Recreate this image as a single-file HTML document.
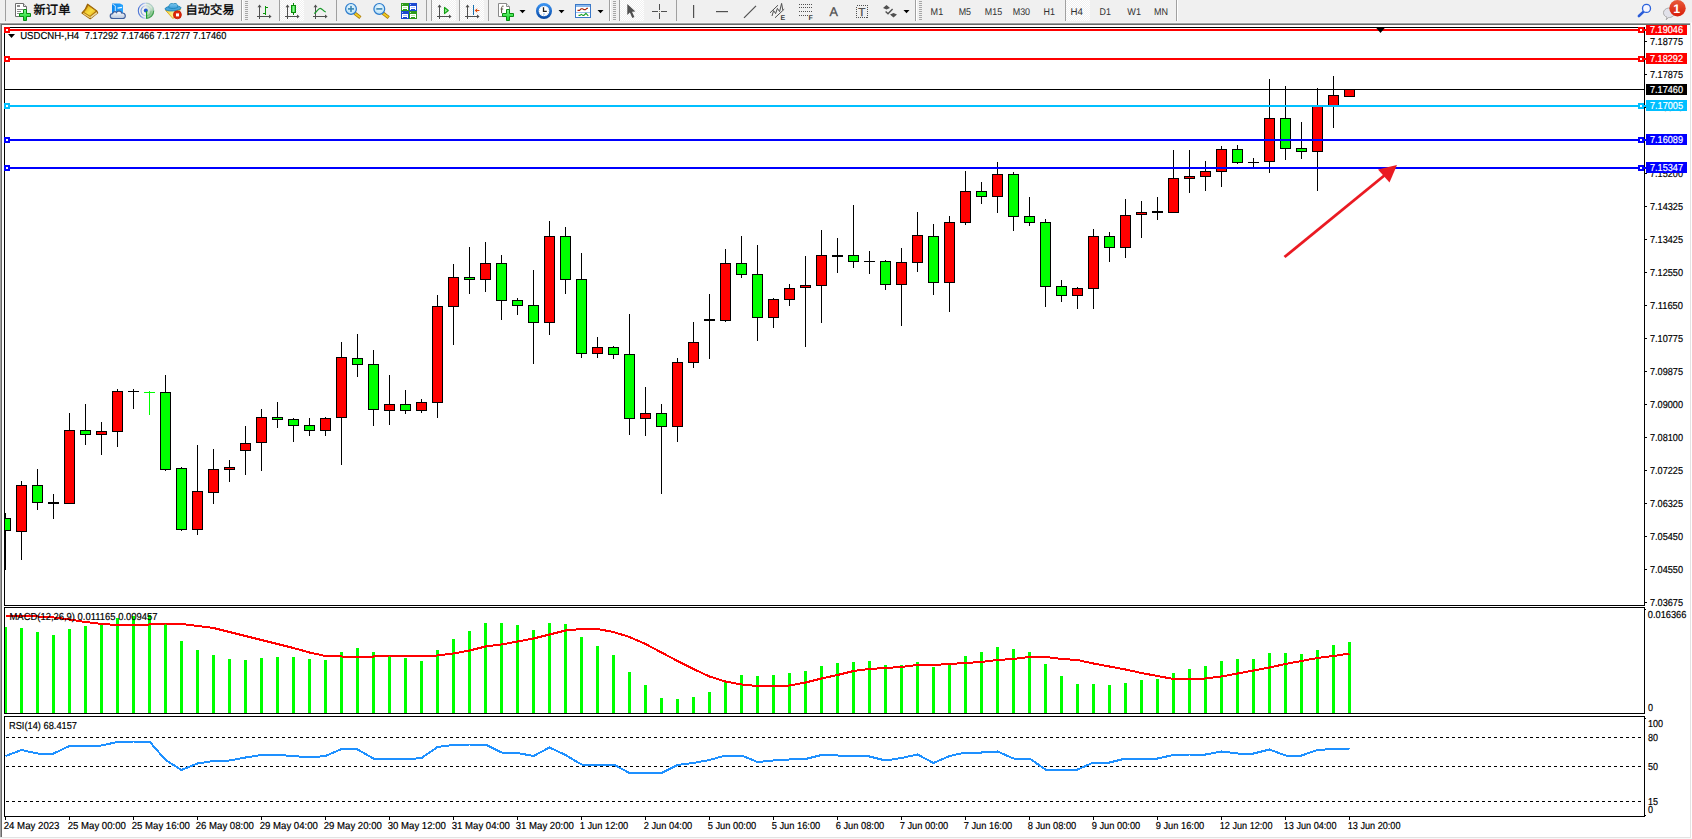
<!DOCTYPE html>
<html><head><meta charset="utf-8"><title>USDCNH-,H4</title>
<style>
html,body{margin:0;padding:0;background:#fff;overflow:hidden}
svg{display:block}
text{font-family:"Liberation Sans","Noto Sans CJK SC",sans-serif;white-space:pre;text-rendering:geometricPrecision}
</style></head><body>
<svg width="1692" height="839" viewBox="0 0 1692 839">
<rect x="0" y="0" width="1692" height="839" fill="#fff"/>
<rect x="0" y="0" width="1692" height="22" fill="#f0f0f0"/>
<rect x="0" y="22" width="1692" height="1" fill="#f6f6f6"/>
<rect x="0" y="23" width="1690" height="1" fill="#a0a0a0"/>
<rect x="1" y="24" width="1689" height="1" fill="#696969"/>
<rect x="0" y="23" width="1" height="814" fill="#a0a0a0"/>
<rect x="1" y="24" width="1" height="813" fill="#696969"/>
<rect x="1690" y="23" width="1" height="815" fill="#e3e3e3"/>
<rect x="0" y="837" width="1691" height="1" fill="#e3e3e3"/>
<rect x="0" y="838" width="1692" height="1" fill="#f8f8f8"/>
<defs>
<pattern id="chk" width="2" height="2" patternUnits="userSpaceOnUse"><rect width="2" height="2" fill="#f0f0f0"/><rect width="1" height="1" fill="#fff"/><rect x="1" y="1" width="1" height="1" fill="#fff"/></pattern>
<linearGradient id="gplus" x1="0" y1="0" x2="0" y2="1"><stop offset="0" stop-color="#7dfc8a"/><stop offset="1" stop-color="#0fd020"/></linearGradient>
<linearGradient id="ggold" x1="0" y1="0" x2="1" y2="1"><stop offset="0" stop-color="#dfa008"/><stop offset="0.55" stop-color="#f9dc40"/><stop offset="1" stop-color="#e0a818"/></linearGradient>
<linearGradient id="gbadge" x1="0" y1="0" x2="0" y2="1"><stop offset="0" stop-color="#e85a3a"/><stop offset="1" stop-color="#d81c08"/></linearGradient>
<linearGradient id="gbox" x1="0" y1="0" x2="1" y2="0"><stop offset="0" stop-color="#0a86ee"/><stop offset="1" stop-color="#2aa6ff"/></linearGradient>
<linearGradient id="gcloud" x1="0" y1="0" x2="0" y2="1"><stop offset="0" stop-color="#ffffff"/><stop offset="1" stop-color="#b9c6dc"/></linearGradient>
<linearGradient id="gcandle" x1="0" y1="0" x2="1" y2="0"><stop offset="0" stop-color="#18c828"/><stop offset="0.5" stop-color="#8cf890"/><stop offset="1" stop-color="#18c828"/></linearGradient>
<radialGradient id="glens" cx="0.5" cy="0.4" r="0.6"><stop offset="0" stop-color="#eefaff"/><stop offset="1" stop-color="#b4def6"/></radialGradient>
<linearGradient id="ghat" x1="0" y1="0" x2="0" y2="1"><stop offset="0" stop-color="#7cc8f0"/><stop offset="1" stop-color="#3a9cd8"/></linearGradient>
<linearGradient id="gface" x1="0" y1="0" x2="1" y2="0"><stop offset="0" stop-color="#f6d030"/><stop offset="0.6" stop-color="#fff6a0"/><stop offset="1" stop-color="#f0c020"/></linearGradient>
<linearGradient id="gclock" x1="0" y1="0" x2="0" y2="1"><stop offset="0" stop-color="#3a92f0"/><stop offset="1" stop-color="#0a4ca8"/></linearGradient>
<linearGradient id="gsigb" x1="0" y1="0" x2="1" y2="0"><stop offset="0" stop-color="#2c5cd0"/><stop offset="1" stop-color="#c8d8f4"/></linearGradient>
<linearGradient id="gsigr" x1="0" y1="0" x2="0.6" y2="1"><stop offset="0" stop-color="#e6efe6"/><stop offset="0.5" stop-color="#cfe6cf"/><stop offset="1" stop-color="#52b05c"/></linearGradient>
</defs>
<g id="toolbar">
<rect x="279" y="0" width="1" height="21" fill="#a0a0a0" shape-rendering="crispEdges"/>
<rect x="280" y="0" width="24" height="21" fill="url(#chk)" shape-rendering="crispEdges"/>
<rect x="431" y="0" width="1" height="21" fill="#a0a0a0" shape-rendering="crispEdges"/>
<rect x="432" y="0" width="24" height="21" fill="url(#chk)" shape-rendering="crispEdges"/>
<rect x="459" y="0" width="1" height="21" fill="#a0a0a0" shape-rendering="crispEdges"/>
<rect x="460" y="0" width="24" height="21" fill="url(#chk)" shape-rendering="crispEdges"/>
<rect x="619" y="0" width="1" height="21" fill="#a0a0a0" shape-rendering="crispEdges"/>
<rect x="620" y="0" width="24" height="21" fill="url(#chk)" shape-rendering="crispEdges"/>
<rect x="1065" y="0" width="1" height="21" fill="#a0a0a0" shape-rendering="crispEdges"/>
<rect x="1066" y="0" width="24" height="21" fill="url(#chk)" shape-rendering="crispEdges"/>
<rect x="5" y="0" width="1" height="21" fill="#a0a0a0" shape-rendering="crispEdges"/>
<path d="M15.5 3.5 h8 l3 3 v10 h-11 Z" fill="#fff" stroke="#6e6e6e" stroke-width="1" stroke-linejoin="round"/>
<path d="M23.5 3.5 v3 h3" fill="#e8e8e8" stroke="#6e6e6e" stroke-width="1" stroke-linejoin="round"/>
<g fill="#8a8a8a" shape-rendering="crispEdges"><rect x="17" y="5" width="3" height="2"/><rect x="17" y="9" width="6" height="1"/><rect x="17" y="11" width="4" height="1"/><rect x="17" y="13" width="2" height="1"/></g>
<path d="M23.5 9.5 h3 v4 h4 v3 h-4 v4 h-3 v-4 h-4 v-3 h4 Z" fill="url(#gplus)" stroke="#0a8c12" stroke-width="1"/>
<text x="33.6" y="14.0" font-size="12.2" fill="#000" stroke="#000" stroke-width="0.35" textLength="36.8" lengthAdjust="spacingAndGlyphs">新订单</text>
<path d="M87.6 4.2 L96.8 10.9 L97.7 12.9 L90.2 18.7 L82 13 C84.4 10.8 86.5 7.6 87.6 4.2 Z" fill="#b87a0c" stroke="#9a6206" stroke-width="1.2" stroke-linejoin="round"/>
<path d="M90.4 17.7 L97 12.6" fill="none" stroke="#e8d9a0" stroke-width="1.5"/>
<path d="M83.2 13.3 L90.2 17.6" fill="none" stroke="#f0d070" stroke-width="1.3"/>
<path d="M88 5.2 L96.2 11 L90 16.2 L83.6 12.2 C85.6 10.3 87.1 7.7 88 5.2 Z" fill="url(#ggold)" stroke="#a87008" stroke-width="0.7" stroke-linejoin="round"/>
<path d="M112 3.5 h8 l3 1.5 v8 h-11 Z" fill="url(#gbox)"/>
<path d="M112.3 4 l3 1.8 v7" fill="none" stroke="#d8f0ff" stroke-width="0.9"/>
<path d="M117.5 8.2 l4.5 -0.8" stroke="#e8f8ff" stroke-width="1.3"/>
<path d="M113 18.5 c-3.6 0 -3.6 -4.6 -0.4 -4.8 c0.2 -2 2.8 -2.6 3.8 -1.2 c1.2 -2.2 5 -1.8 5.4 0.6 c3.8 -1 5.2 5.4 0.6 5.4 Z" fill="url(#gcloud)" stroke="#3f5f9c" stroke-width="1.2"/>
<path d="M146.3 3 A7.8 7.8 0 0 1 146.3 18.6 Z" fill="url(#gsigr)" opacity="0.9"/>
<g fill="none" stroke-width="1.1"><path d="M146 18.5 A7.7 7.7 0 0 1 146 3.1" stroke="url(#gsigb)" opacity="0.85"/><path d="M146 15.8 A5 5 0 0 1 146 5.8" stroke="url(#gsigb)" opacity="0.6"/><path d="M146 3.1 A7.7 7.7 0 0 1 153.7 10.8" stroke="#9cc0c0" opacity="0.7"/><path d="M146 5.8 A5 5 0 0 1 151 10.8" stroke="#b8d0d0" opacity="0.7"/><path d="M153.7 10.8 A7.7 7.7 0 0 1 146.4 18.5" stroke="#3c9c4c" opacity="0.9"/><path d="M151 10.8 A5 5 0 0 1 146.6 15.8" stroke="#7cc088" opacity="0.9"/></g>
<circle cx="145.8" cy="10.6" r="2" fill="#2458cc"/>
<rect x="146" y="11" width="1.2" height="7.6" fill="#18a028"/>
<path d="M165.6 10.4 L180.6 9.4 L173 18.6 Z" fill="url(#gface)" stroke="#d8a010" stroke-width="0.8" stroke-linejoin="round"/>
<ellipse cx="173" cy="8.4" rx="8" ry="2.5" transform="rotate(-4 173 8.4)" fill="#48a4dc" stroke="#1c84b8" stroke-width="0.9"/>
<path d="M168.8 7.8 C168.6 5 170 3.3 172.2 3.5 C173.2 3.9 174 3.9 175 3.4 C177 3.4 178 5.4 177.8 7.4 C175.4 8.8 171.4 8.9 168.8 7.8 Z" fill="url(#ghat)" stroke="#1c84b8" stroke-width="0.8"/>
<circle cx="177.4" cy="14.8" r="4" fill="#e02808"/><circle cx="177.4" cy="14.8" r="4" fill="none" stroke="#c01800" stroke-width="0.8"/>
<rect x="176" y="13.4" width="3" height="3" fill="#fff"/>
<text x="185.4" y="14.0" font-size="12.2" fill="#000" stroke="#000" stroke-width="0.35" textLength="49" lengthAdjust="spacingAndGlyphs">自动交易</text>
<rect x="241" y="0" width="1" height="21" fill="#a0a0a0" shape-rendering="crispEdges"/>
<rect x="242" y="0" width="1" height="21" fill="#ffffff" shape-rendering="crispEdges"/>
<rect x="245" y="1" width="3" height="1" fill="#a6a6a6" shape-rendering="crispEdges"/>
<rect x="245" y="3" width="3" height="1" fill="#a6a6a6" shape-rendering="crispEdges"/>
<rect x="245" y="5" width="3" height="1" fill="#a6a6a6" shape-rendering="crispEdges"/>
<rect x="245" y="7" width="3" height="1" fill="#a6a6a6" shape-rendering="crispEdges"/>
<rect x="245" y="9" width="3" height="1" fill="#a6a6a6" shape-rendering="crispEdges"/>
<rect x="245" y="11" width="3" height="1" fill="#a6a6a6" shape-rendering="crispEdges"/>
<rect x="245" y="13" width="3" height="1" fill="#a6a6a6" shape-rendering="crispEdges"/>
<rect x="245" y="15" width="3" height="1" fill="#a6a6a6" shape-rendering="crispEdges"/>
<rect x="245" y="17" width="3" height="1" fill="#a6a6a6" shape-rendering="crispEdges"/>
<rect x="245" y="19" width="3" height="1" fill="#a6a6a6" shape-rendering="crispEdges"/>
<g fill="#505050" shape-rendering="crispEdges"><rect x="259" y="6" width="1" height="13"/><rect x="257" y="16" width="13" height="1"/></g>
<path d="M259.5 4.6 l2 2.6 h-4 Z M271.6 16.5 l-2.6 -2 v4 Z" fill="#505050"/>
<g fill="#0a960a" shape-rendering="crispEdges"><rect x="265" y="6" width="1" height="9"/><rect x="266" y="7" width="2" height="1"/><rect x="263" y="13" width="2" height="1"/></g>
<g fill="#505050" shape-rendering="crispEdges"><rect x="287" y="6" width="1" height="13"/><rect x="285" y="16" width="13" height="1"/></g>
<path d="M287.5 4.6 l2 2.6 h-4 Z M299.6 16.5 l-2.6 -2 v4 Z" fill="#505050"/>
<rect x="293" y="3" width="1" height="12" fill="#0a8c0a" shape-rendering="crispEdges"/>
<rect x="291.5" y="5.5" width="4" height="7" fill="url(#gcandle)" stroke="#0a8c0a" stroke-width="1"/>
<g fill="#505050" shape-rendering="crispEdges"><rect x="315" y="6" width="1" height="13"/><rect x="313" y="16" width="13" height="1"/></g>
<path d="M315.5 4.6 l2 2.6 h-4 Z M327.6 16.5 l-2.6 -2 v4 Z" fill="#505050"/>
<path d="M314.2 13.6 C317 12 318 8.2 320.2 8.3 C322.4 8.4 323 11.4 325.8 12" fill="none" stroke="#1a9a2a" stroke-width="1.2"/>
<rect x="336" y="0" width="1" height="21" fill="#a0a0a0" shape-rendering="crispEdges"/>
<path d="M354.6 13.2 L360.4 17.6" stroke="#a87808" stroke-width="3.4" stroke-linecap="butt"/>
<path d="M354.9 13.5 L360 17.3" stroke="#f0cc20" stroke-width="1.8" stroke-linecap="butt"/>
<circle cx="351" cy="8.9" r="5.4" fill="url(#glens)" stroke="#2a7acc" stroke-width="1.2"/>
<rect x="348" y="8.1" width="6" height="1.6" fill="#3a86b4"/>
<rect x="350.2" y="5.9" width="1.6" height="6" fill="#3a86b4"/>
<path d="M382.90000000000003 13.2 L388.7 17.6" stroke="#a87808" stroke-width="3.4" stroke-linecap="butt"/>
<path d="M383.2 13.5 L388.3 17.3" stroke="#f0cc20" stroke-width="1.8" stroke-linecap="butt"/>
<circle cx="379.3" cy="8.9" r="5.4" fill="url(#glens)" stroke="#2a7acc" stroke-width="1.2"/>
<rect x="376.3" y="8.1" width="6" height="1.6" fill="#3a86b4"/>
<rect x="401" y="3" width="8" height="8" fill="#2e9a1a" shape-rendering="crispEdges"/>
<path d="M402 6 h6 v4 h-1 v-1.4 h-4 v1.4 h-1 Z" fill="#fff" shape-rendering="crispEdges"/>
<rect x="403" y="7" width="4" height="1" fill="#b8e8a0" shape-rendering="crispEdges"/>
<rect x="402" y="4" width="1" height="1" fill="#b8e8a0" shape-rendering="crispEdges"/>
<rect x="409" y="3" width="8" height="8" fill="#1c48d0" shape-rendering="crispEdges"/>
<path d="M410 6 h6 v4 h-1 v-1.4 h-4 v1.4 h-1 Z" fill="#fff" shape-rendering="crispEdges"/>
<rect x="411" y="7" width="4" height="1" fill="#a8c0ff" shape-rendering="crispEdges"/>
<rect x="410" y="4" width="1" height="1" fill="#a8c0ff" shape-rendering="crispEdges"/>
<rect x="401" y="11" width="8" height="8" fill="#1c48d0" shape-rendering="crispEdges"/>
<path d="M402 14 h6 v4 h-1 v-1.4 h-4 v1.4 h-1 Z" fill="#fff" shape-rendering="crispEdges"/>
<rect x="403" y="15" width="4" height="1" fill="#a8c0ff" shape-rendering="crispEdges"/>
<rect x="402" y="12" width="1" height="1" fill="#a8c0ff" shape-rendering="crispEdges"/>
<rect x="409" y="11" width="8" height="8" fill="#2e9a1a" shape-rendering="crispEdges"/>
<path d="M410 14 h6 v4 h-1 v-1.4 h-4 v1.4 h-1 Z" fill="#fff" shape-rendering="crispEdges"/>
<rect x="411" y="15" width="4" height="1" fill="#b8e8a0" shape-rendering="crispEdges"/>
<rect x="410" y="12" width="1" height="1" fill="#b8e8a0" shape-rendering="crispEdges"/>
<rect x="426" y="0" width="1" height="21" fill="#a0a0a0" shape-rendering="crispEdges"/>
<g fill="#505050" shape-rendering="crispEdges"><rect x="439" y="6" width="1" height="13"/><rect x="437" y="16" width="13" height="1"/></g>
<path d="M439.5 4.6 l2 2.6 h-4 Z M451.6 16.5 l-2.6 -2 v4 Z" fill="#505050"/>
<path d="M444.5 7.3 L448.3 10.5 L444.5 13.7 Z" fill="#90e890" stroke="#12a012" stroke-width="1.1" stroke-linejoin="round"/>
<g fill="#505050" shape-rendering="crispEdges"><rect x="467" y="6" width="1" height="13"/><rect x="465" y="16" width="13" height="1"/></g>
<path d="M467.5 4.6 l2 2.6 h-4 Z M479.6 16.5 l-2.6 -2 v4 Z" fill="#505050"/>
<rect x="473" y="5" width="1" height="10" fill="#1870b0" shape-rendering="crispEdges"/>
<path d="M474.6 10.5 L477.4 8.2 L477 10 H479.4 V11 H477 L477.4 12.8 Z" fill="#e04808"/>
<rect x="488" y="0" width="1" height="21" fill="#a0a0a0" shape-rendering="crispEdges"/>
<path d="M498.5 3.5 h8 l3 3 v10 h-11 Z" fill="#fff" stroke="#8a8a8a" stroke-width="1" stroke-linejoin="round"/>
<path d="M506.5 3.5 v3 h3" fill="#eee" stroke="#8a8a8a" stroke-width="1" stroke-linejoin="round"/>
<path d="M503.6 6.2 c-1.6 -0.4 -2 0.6 -2 2 v5 M500.6 9 h2.6" fill="none" stroke="#5a5040" stroke-width="1"/>
<path d="M506.5 9.5 h3 v4 h4 v3 h-4 v4 h-3 v-4 h-4 v-3 h4 Z" fill="url(#gplus)" stroke="#0a8c12" stroke-width="1"/>
<path d="M519.5 10 h6 l-3 3.3 Z" fill="#000"/>
<circle cx="544" cy="11" r="6.7" fill="#fff" stroke="url(#gclock)" stroke-width="2.7"/>
<circle cx="544" cy="11" r="4.6" fill="none" stroke="#8894a4" stroke-width="0.7" stroke-dasharray="0.6 1.81"/>
<path d="M543.5 7.2 V11.3 H546.8" fill="none" stroke="#202020" stroke-width="1.3"/>
<rect x="543" y="13.6" width="2" height="0.8" fill="#60a0f0"/>
<path d="M558.5 10 h6 l-3 3.3 Z" fill="#000"/>
<rect x="575.5" y="4.5" width="15" height="13" fill="#fff" stroke="#3a78c8" stroke-width="1"/>
<rect x="576" y="5" width="14" height="2" fill="#8ab8ec" shape-rendering="crispEdges"/>
<rect x="576" y="12" width="14" height="1" fill="#9cc0ec" shape-rendering="crispEdges"/>
<path d="M577.5 10.4 h2 l1.6 -1.6 h1.4 l1.4 0.8 h1.6 l1.4 -1.2 h1" fill="none" stroke="#a82408" stroke-width="1.1"/>
<path d="M578.5 15.4 h1.4 l1.4 -1 l1.6 1 h1 l2 -2 l2.4 2.4" fill="none" stroke="#18a028" stroke-width="1.1"/>
<path d="M597.5 10 h6 l-3 3.3 Z" fill="#000"/>
<rect x="609" y="0" width="1" height="21" fill="#a0a0a0" shape-rendering="crispEdges"/>
<rect x="610" y="0" width="1" height="21" fill="#ffffff" shape-rendering="crispEdges"/>
<rect x="613" y="1" width="3" height="1" fill="#a6a6a6" shape-rendering="crispEdges"/>
<rect x="613" y="3" width="3" height="1" fill="#a6a6a6" shape-rendering="crispEdges"/>
<rect x="613" y="5" width="3" height="1" fill="#a6a6a6" shape-rendering="crispEdges"/>
<rect x="613" y="7" width="3" height="1" fill="#a6a6a6" shape-rendering="crispEdges"/>
<rect x="613" y="9" width="3" height="1" fill="#a6a6a6" shape-rendering="crispEdges"/>
<rect x="613" y="11" width="3" height="1" fill="#a6a6a6" shape-rendering="crispEdges"/>
<rect x="613" y="13" width="3" height="1" fill="#a6a6a6" shape-rendering="crispEdges"/>
<rect x="613" y="15" width="3" height="1" fill="#a6a6a6" shape-rendering="crispEdges"/>
<rect x="613" y="17" width="3" height="1" fill="#a6a6a6" shape-rendering="crispEdges"/>
<rect x="613" y="19" width="3" height="1" fill="#a6a6a6" shape-rendering="crispEdges"/>
<path d="M627.3 4 V15 L629.9 12.6 L632.3 18 L634.4 17.1 L632 11.8 L635.4 11.4 Z" fill="#505050"/>
<g fill="#505050" shape-rendering="crispEdges"><rect x="659" y="4" width="1" height="6"/><rect x="659" y="13" width="1" height="6"/><rect x="652" y="11" width="6" height="1"/><rect x="661" y="11" width="6" height="1"/></g>
<rect x="659" y="11" width="1" height="1" fill="#8a8a70"/>
<rect x="676" y="0" width="1" height="21" fill="#a0a0a0" shape-rendering="crispEdges"/>
<rect x="693" y="5" width="1.2" height="13" fill="#505050"/>
<rect x="716" y="11" width="12" height="1.2" fill="#505050"/>
<path d="M744 17.8 L756 5.8" stroke="#505050" stroke-width="1.2"/>
<path d="M770 12.8 L778 5.2 M775 17.8 L784.2 9.2" stroke="#505050" stroke-width="1"/>
<path d="M772 16 L773.6 10.6 L775.6 13.6 L777.4 8.4 L779.6 11.6 L781.6 3.4 L782.8 10" fill="none" stroke="#505050" stroke-width="1"/>
<text x="780.6" y="19.7" font-size="7" font-weight="bold" fill="#404040">E</text>
<path d="M799 4.5 H812" stroke="#505050" stroke-width="1" stroke-dasharray="1 1" shape-rendering="crispEdges"/>
<path d="M799 7.5 H812" stroke="#505050" stroke-width="1" stroke-dasharray="1 1" shape-rendering="crispEdges"/>
<path d="M799 11.5 H812" stroke="#505050" stroke-width="1" stroke-dasharray="1 1" shape-rendering="crispEdges"/>
<path d="M799 15.5 H808" stroke="#505050" stroke-width="1" stroke-dasharray="1 1" shape-rendering="crispEdges"/>
<text x="808.6" y="19.7" font-size="7" font-weight="bold" fill="#404040">F</text>
<text x="829.6" y="16" font-size="12.6" fill="#505050" stroke="#505050" stroke-width="0.3">A</text>
<rect x="856.5" y="5.5" width="11" height="12" fill="none" stroke="#505050" stroke-width="1" stroke-dasharray="1 1" shape-rendering="crispEdges"/>
<text x="858.2" y="16" font-size="11.6" fill="#505050" stroke="#505050" stroke-width="0.3">T</text>
<path d="M886.5 5 L890 8 L886.5 9.6 L883 8 Z M893.5 17.6 L890 14.6 L893.5 13 L897 14.6 Z" fill="#505050"/>
<path d="M885.6 11.6 L888 13.8 L892.6 9" fill="none" stroke="#505050" stroke-width="1.4"/>
<path d="M903.5 10 h6 l-3 3.3 Z" fill="#000"/>
<rect x="915" y="0" width="1" height="21" fill="#a0a0a0" shape-rendering="crispEdges"/>
<rect x="916" y="0" width="1" height="21" fill="#ffffff" shape-rendering="crispEdges"/>
<rect x="919" y="1" width="3" height="1" fill="#a6a6a6" shape-rendering="crispEdges"/>
<rect x="919" y="3" width="3" height="1" fill="#a6a6a6" shape-rendering="crispEdges"/>
<rect x="919" y="5" width="3" height="1" fill="#a6a6a6" shape-rendering="crispEdges"/>
<rect x="919" y="7" width="3" height="1" fill="#a6a6a6" shape-rendering="crispEdges"/>
<rect x="919" y="9" width="3" height="1" fill="#a6a6a6" shape-rendering="crispEdges"/>
<rect x="919" y="11" width="3" height="1" fill="#a6a6a6" shape-rendering="crispEdges"/>
<rect x="919" y="13" width="3" height="1" fill="#a6a6a6" shape-rendering="crispEdges"/>
<rect x="919" y="15" width="3" height="1" fill="#a6a6a6" shape-rendering="crispEdges"/>
<rect x="919" y="17" width="3" height="1" fill="#a6a6a6" shape-rendering="crispEdges"/>
<rect x="919" y="19" width="3" height="1" fill="#a6a6a6" shape-rendering="crispEdges"/>
<text x="930.6" y="15" font-size="9.8" fill="#303030" textLength="12.6" lengthAdjust="spacingAndGlyphs">M1</text>
<text x="958.7" y="15" font-size="9.8" fill="#303030" textLength="12.4" lengthAdjust="spacingAndGlyphs">M5</text>
<text x="984.8" y="15" font-size="9.8" fill="#303030" textLength="17.3" lengthAdjust="spacingAndGlyphs">M15</text>
<text x="1012.7" y="15" font-size="9.8" fill="#303030" textLength="17.4" lengthAdjust="spacingAndGlyphs">M30</text>
<text x="1043.6" y="15" font-size="9.8" fill="#303030" textLength="11.4" lengthAdjust="spacingAndGlyphs">H1</text>
<text x="1070.6" y="15" font-size="9.8" fill="#303030" textLength="12.4" lengthAdjust="spacingAndGlyphs">H4</text>
<text x="1099.6" y="15" font-size="9.8" fill="#303030" textLength="11.4" lengthAdjust="spacingAndGlyphs">D1</text>
<text x="1127.3" y="15" font-size="9.8" fill="#303030" textLength="13.7" lengthAdjust="spacingAndGlyphs">W1</text>
<text x="1154" y="15" font-size="9.8" fill="#303030" textLength="14" lengthAdjust="spacingAndGlyphs">MN</text>
<rect x="1176" y="0" width="1" height="21" fill="#a0a0a0" shape-rendering="crispEdges"/>
<rect x="1177" y="0" width="1" height="21" fill="#ffffff" shape-rendering="crispEdges"/>
<path d="M1643.6 11.6 L1638.9 16" stroke="#2a5cd8" stroke-width="2.6" stroke-linecap="round"/>
<circle cx="1646.5" cy="8.4" r="4" fill="#f6f6ff" stroke="#2a62dc" stroke-width="1.3"/>
<path d="M1666.2 19.8 L1667 17.2 C1662 15.6 1662.2 9 1668.4 8 C1674 7.4 1676 12 1673.6 15.6 C1672 17.4 1669.6 17.6 1668.4 17.6 Z" fill="#e2e2ea" stroke="#a4a4a4" stroke-width="0.9"/>
<circle cx="1677.5" cy="8.2" r="8.2" fill="url(#gbadge)"/>
<text x="1676.6" y="12.8" font-size="12.4" font-weight="bold" fill="#fff" text-anchor="middle" font-family="Liberation Mono, monospace">1</text>
</g>
<g shape-rendering="crispEdges">
<rect x="4" y="27" width="1641" height="1" fill="#000"/>
<rect x="4" y="27" width="1" height="579" fill="#000"/>
<rect x="4" y="605" width="1641" height="1" fill="#000"/>
<rect x="1644" y="27" width="1" height="579" fill="#000"/>
<rect x="4" y="607" width="1641" height="1" fill="#000"/>
<rect x="4" y="607" width="1" height="107" fill="#000"/>
<rect x="4" y="713" width="1641" height="1" fill="#000"/>
<rect x="1644" y="607" width="1" height="107" fill="#000"/>
<rect x="4" y="716" width="1641" height="1" fill="#000"/>
<rect x="4" y="716" width="1" height="101" fill="#000"/>
<rect x="4" y="816" width="1641" height="1" fill="#000"/>
<rect x="1644" y="716" width="1" height="101" fill="#000"/>
<rect x="1645" y="815" width="1" height="1" fill="#000"/>
<rect x="1645" y="609" width="1" height="1" fill="#000"/>
<rect x="1645" y="718" width="1" height="1" fill="#000"/>
<rect x="1645" y="41" width="2" height="1" fill="#000"/>
<rect x="1645" y="74" width="2" height="1" fill="#000"/>
<rect x="1645" y="107" width="2" height="1" fill="#000"/>
<rect x="1645" y="140" width="2" height="1" fill="#000"/>
<rect x="1645" y="173" width="2" height="1" fill="#000"/>
<rect x="1645" y="206" width="2" height="1" fill="#000"/>
<rect x="1645" y="239" width="2" height="1" fill="#000"/>
<rect x="1645" y="272" width="2" height="1" fill="#000"/>
<rect x="1645" y="305" width="2" height="1" fill="#000"/>
<rect x="1645" y="338" width="2" height="1" fill="#000"/>
<rect x="1645" y="371" width="2" height="1" fill="#000"/>
<rect x="1645" y="404" width="2" height="1" fill="#000"/>
<rect x="1645" y="437" width="2" height="1" fill="#000"/>
<rect x="1645" y="470" width="2" height="1" fill="#000"/>
<rect x="1645" y="503" width="2" height="1" fill="#000"/>
<rect x="1645" y="536" width="2" height="1" fill="#000"/>
<rect x="1645" y="569" width="2" height="1" fill="#000"/>
<rect x="1645" y="602" width="2" height="1" fill="#000"/>
</g>
<text x="1650" y="45" font-size="10.1" fill="#000" textLength="33" lengthAdjust="spacingAndGlyphs" stroke="#000" stroke-width="0.18">7.18775</text>
<text x="1650" y="78" font-size="10.1" fill="#000" textLength="33" lengthAdjust="spacingAndGlyphs" stroke="#000" stroke-width="0.18">7.17875</text>
<text x="1650" y="111" font-size="10.1" fill="#000" textLength="33" lengthAdjust="spacingAndGlyphs" stroke="#000" stroke-width="0.18">7.16975</text>
<text x="1650" y="144" font-size="10.1" fill="#000" textLength="33" lengthAdjust="spacingAndGlyphs" stroke="#000" stroke-width="0.18">7.16100</text>
<text x="1650" y="177" font-size="10.1" fill="#000" textLength="33" lengthAdjust="spacingAndGlyphs" stroke="#000" stroke-width="0.18">7.15200</text>
<text x="1650" y="210" font-size="10.1" fill="#000" textLength="33" lengthAdjust="spacingAndGlyphs" stroke="#000" stroke-width="0.18">7.14325</text>
<text x="1650" y="243" font-size="10.1" fill="#000" textLength="33" lengthAdjust="spacingAndGlyphs" stroke="#000" stroke-width="0.18">7.13425</text>
<text x="1650" y="276" font-size="10.1" fill="#000" textLength="33" lengthAdjust="spacingAndGlyphs" stroke="#000" stroke-width="0.18">7.12550</text>
<text x="1650" y="309" font-size="10.1" fill="#000" textLength="33" lengthAdjust="spacingAndGlyphs" stroke="#000" stroke-width="0.18">7.11650</text>
<text x="1650" y="342" font-size="10.1" fill="#000" textLength="33" lengthAdjust="spacingAndGlyphs" stroke="#000" stroke-width="0.18">7.10775</text>
<text x="1650" y="375" font-size="10.1" fill="#000" textLength="33" lengthAdjust="spacingAndGlyphs" stroke="#000" stroke-width="0.18">7.09875</text>
<text x="1650" y="408" font-size="10.1" fill="#000" textLength="33" lengthAdjust="spacingAndGlyphs" stroke="#000" stroke-width="0.18">7.09000</text>
<text x="1650" y="441" font-size="10.1" fill="#000" textLength="33" lengthAdjust="spacingAndGlyphs" stroke="#000" stroke-width="0.18">7.08100</text>
<text x="1650" y="474" font-size="10.1" fill="#000" textLength="33" lengthAdjust="spacingAndGlyphs" stroke="#000" stroke-width="0.18">7.07225</text>
<text x="1650" y="507" font-size="10.1" fill="#000" textLength="33" lengthAdjust="spacingAndGlyphs" stroke="#000" stroke-width="0.18">7.06325</text>
<text x="1650" y="540" font-size="10.1" fill="#000" textLength="33" lengthAdjust="spacingAndGlyphs" stroke="#000" stroke-width="0.18">7.05450</text>
<text x="1650" y="573" font-size="10.1" fill="#000" textLength="33" lengthAdjust="spacingAndGlyphs" stroke="#000" stroke-width="0.18">7.04550</text>
<text x="1650" y="606" font-size="10.1" fill="#000" textLength="33" lengthAdjust="spacingAndGlyphs" stroke="#000" stroke-width="0.18">7.03675</text>
<g shape-rendering="crispEdges">
<rect x="5" y="513" width="1" height="57" fill="#000"/>
<rect x="5" y="518" width="6" height="13" fill="#000"/>
<rect x="5" y="519" width="5" height="11" fill="#00ff00"/>
<rect x="21" y="481" width="1" height="79" fill="#000"/>
<rect x="16" y="485" width="11" height="47" fill="#000"/>
<rect x="17" y="486" width="9" height="45" fill="#ff0000"/>
<rect x="37" y="469" width="1" height="41" fill="#000"/>
<rect x="32" y="485" width="11" height="18" fill="#000"/>
<rect x="33" y="486" width="9" height="16" fill="#00ff00"/>
<rect x="53" y="494" width="1" height="25" fill="#000"/>
<rect x="48" y="502" width="11" height="2" fill="#000"/>
<rect x="69" y="413" width="1" height="91" fill="#000"/>
<rect x="64" y="430" width="11" height="74" fill="#000"/>
<rect x="65" y="431" width="9" height="72" fill="#ff0000"/>
<rect x="85" y="404" width="1" height="41" fill="#000"/>
<rect x="80" y="430" width="11" height="5" fill="#000"/>
<rect x="81" y="431" width="9" height="3" fill="#00ff00"/>
<rect x="101" y="422" width="1" height="33" fill="#000"/>
<rect x="96" y="431" width="11" height="4" fill="#000"/>
<rect x="97" y="432" width="9" height="2" fill="#ff0000"/>
<rect x="117" y="389" width="1" height="58" fill="#000"/>
<rect x="112" y="391" width="11" height="41" fill="#000"/>
<rect x="113" y="392" width="9" height="39" fill="#ff0000"/>
<rect x="133" y="389" width="1" height="20" fill="#000"/>
<rect x="128" y="391" width="11" height="1" fill="#000"/>
<rect x="149" y="391" width="1" height="24" fill="#00ff00"/>
<rect x="144" y="392" width="11" height="1" fill="#00ff00"/>
<rect x="165" y="375" width="1" height="96" fill="#000"/>
<rect x="160" y="392" width="11" height="78" fill="#000"/>
<rect x="161" y="393" width="9" height="76" fill="#00ff00"/>
<rect x="181" y="467" width="1" height="64" fill="#000"/>
<rect x="176" y="468" width="11" height="62" fill="#000"/>
<rect x="177" y="469" width="9" height="60" fill="#00ff00"/>
<rect x="197" y="445" width="1" height="90" fill="#000"/>
<rect x="192" y="491" width="11" height="39" fill="#000"/>
<rect x="193" y="492" width="9" height="37" fill="#ff0000"/>
<rect x="213" y="449" width="1" height="55" fill="#000"/>
<rect x="208" y="469" width="11" height="24" fill="#000"/>
<rect x="209" y="470" width="9" height="22" fill="#ff0000"/>
<rect x="229" y="460" width="1" height="22" fill="#000"/>
<rect x="224" y="467" width="11" height="3" fill="#000"/>
<rect x="225" y="468" width="9" height="1" fill="#ff0000"/>
<rect x="245" y="426" width="1" height="49" fill="#000"/>
<rect x="240" y="443" width="11" height="8" fill="#000"/>
<rect x="241" y="444" width="9" height="6" fill="#ff0000"/>
<rect x="261" y="409" width="1" height="62" fill="#000"/>
<rect x="256" y="417" width="11" height="26" fill="#000"/>
<rect x="257" y="418" width="9" height="24" fill="#ff0000"/>
<rect x="277" y="402" width="1" height="26" fill="#000"/>
<rect x="272" y="417" width="11" height="3" fill="#000"/>
<rect x="273" y="418" width="9" height="1" fill="#00ff00"/>
<rect x="293" y="418" width="1" height="24" fill="#000"/>
<rect x="288" y="419" width="11" height="7" fill="#000"/>
<rect x="289" y="420" width="9" height="5" fill="#00ff00"/>
<rect x="309" y="418" width="1" height="18" fill="#000"/>
<rect x="304" y="425" width="11" height="6" fill="#000"/>
<rect x="305" y="426" width="9" height="4" fill="#00ff00"/>
<rect x="325" y="417" width="1" height="19" fill="#000"/>
<rect x="320" y="418" width="11" height="13" fill="#000"/>
<rect x="321" y="419" width="9" height="11" fill="#ff0000"/>
<rect x="341" y="342" width="1" height="123" fill="#000"/>
<rect x="336" y="357" width="11" height="61" fill="#000"/>
<rect x="337" y="358" width="9" height="59" fill="#ff0000"/>
<rect x="357" y="334" width="1" height="43" fill="#000"/>
<rect x="352" y="358" width="11" height="7" fill="#000"/>
<rect x="353" y="359" width="9" height="5" fill="#00ff00"/>
<rect x="373" y="350" width="1" height="76" fill="#000"/>
<rect x="368" y="364" width="11" height="46" fill="#000"/>
<rect x="369" y="365" width="9" height="44" fill="#00ff00"/>
<rect x="389" y="375" width="1" height="50" fill="#000"/>
<rect x="384" y="404" width="11" height="7" fill="#000"/>
<rect x="385" y="405" width="9" height="5" fill="#ff0000"/>
<rect x="405" y="390" width="1" height="24" fill="#000"/>
<rect x="400" y="404" width="11" height="7" fill="#000"/>
<rect x="401" y="405" width="9" height="5" fill="#00ff00"/>
<rect x="421" y="399" width="1" height="14" fill="#000"/>
<rect x="416" y="402" width="11" height="9" fill="#000"/>
<rect x="417" y="403" width="9" height="7" fill="#ff0000"/>
<rect x="437" y="295" width="1" height="123" fill="#000"/>
<rect x="432" y="306" width="11" height="97" fill="#000"/>
<rect x="433" y="307" width="9" height="95" fill="#ff0000"/>
<rect x="453" y="264" width="1" height="81" fill="#000"/>
<rect x="448" y="277" width="11" height="30" fill="#000"/>
<rect x="449" y="278" width="9" height="28" fill="#ff0000"/>
<rect x="469" y="247" width="1" height="47" fill="#000"/>
<rect x="464" y="277" width="11" height="3" fill="#000"/>
<rect x="465" y="278" width="9" height="1" fill="#00ff00"/>
<rect x="485" y="242" width="1" height="50" fill="#000"/>
<rect x="480" y="263" width="11" height="17" fill="#000"/>
<rect x="481" y="264" width="9" height="15" fill="#ff0000"/>
<rect x="501" y="255" width="1" height="65" fill="#000"/>
<rect x="496" y="263" width="11" height="38" fill="#000"/>
<rect x="497" y="264" width="9" height="36" fill="#00ff00"/>
<rect x="517" y="298" width="1" height="17" fill="#000"/>
<rect x="512" y="300" width="11" height="6" fill="#000"/>
<rect x="513" y="301" width="9" height="4" fill="#00ff00"/>
<rect x="533" y="270" width="1" height="94" fill="#000"/>
<rect x="528" y="305" width="11" height="18" fill="#000"/>
<rect x="529" y="306" width="9" height="16" fill="#00ff00"/>
<rect x="549" y="221" width="1" height="114" fill="#000"/>
<rect x="544" y="236" width="11" height="87" fill="#000"/>
<rect x="545" y="237" width="9" height="85" fill="#ff0000"/>
<rect x="565" y="227" width="1" height="67" fill="#000"/>
<rect x="560" y="236" width="11" height="44" fill="#000"/>
<rect x="561" y="237" width="9" height="42" fill="#00ff00"/>
<rect x="581" y="253" width="1" height="105" fill="#000"/>
<rect x="576" y="279" width="11" height="75" fill="#000"/>
<rect x="577" y="280" width="9" height="73" fill="#00ff00"/>
<rect x="597" y="337" width="1" height="21" fill="#000"/>
<rect x="592" y="347" width="11" height="7" fill="#000"/>
<rect x="593" y="348" width="9" height="5" fill="#ff0000"/>
<rect x="613" y="346" width="1" height="13" fill="#000"/>
<rect x="608" y="347" width="11" height="8" fill="#000"/>
<rect x="609" y="348" width="9" height="6" fill="#00ff00"/>
<rect x="629" y="314" width="1" height="121" fill="#000"/>
<rect x="624" y="354" width="11" height="65" fill="#000"/>
<rect x="625" y="355" width="9" height="63" fill="#00ff00"/>
<rect x="645" y="387" width="1" height="49" fill="#000"/>
<rect x="640" y="413" width="11" height="6" fill="#000"/>
<rect x="641" y="414" width="9" height="4" fill="#ff0000"/>
<rect x="661" y="404" width="1" height="90" fill="#000"/>
<rect x="656" y="413" width="11" height="14" fill="#000"/>
<rect x="657" y="414" width="9" height="12" fill="#00ff00"/>
<rect x="677" y="358" width="1" height="84" fill="#000"/>
<rect x="672" y="362" width="11" height="65" fill="#000"/>
<rect x="673" y="363" width="9" height="63" fill="#ff0000"/>
<rect x="693" y="322" width="1" height="46" fill="#000"/>
<rect x="688" y="342" width="11" height="21" fill="#000"/>
<rect x="689" y="343" width="9" height="19" fill="#ff0000"/>
<rect x="709" y="294" width="1" height="65" fill="#000"/>
<rect x="704" y="319" width="11" height="2" fill="#000"/>
<rect x="725" y="249" width="1" height="73" fill="#000"/>
<rect x="720" y="263" width="11" height="58" fill="#000"/>
<rect x="721" y="264" width="9" height="56" fill="#ff0000"/>
<rect x="741" y="236" width="1" height="42" fill="#000"/>
<rect x="736" y="263" width="11" height="12" fill="#000"/>
<rect x="737" y="264" width="9" height="10" fill="#00ff00"/>
<rect x="757" y="245" width="1" height="96" fill="#000"/>
<rect x="752" y="274" width="11" height="44" fill="#000"/>
<rect x="753" y="275" width="9" height="42" fill="#00ff00"/>
<rect x="773" y="298" width="1" height="30" fill="#000"/>
<rect x="768" y="299" width="11" height="19" fill="#000"/>
<rect x="769" y="300" width="9" height="17" fill="#ff0000"/>
<rect x="789" y="284" width="1" height="22" fill="#000"/>
<rect x="784" y="288" width="11" height="12" fill="#000"/>
<rect x="785" y="289" width="9" height="10" fill="#ff0000"/>
<rect x="805" y="256" width="1" height="91" fill="#000"/>
<rect x="800" y="285" width="11" height="3" fill="#000"/>
<rect x="801" y="286" width="9" height="1" fill="#ff0000"/>
<rect x="821" y="230" width="1" height="93" fill="#000"/>
<rect x="816" y="255" width="11" height="31" fill="#000"/>
<rect x="817" y="256" width="9" height="29" fill="#ff0000"/>
<rect x="837" y="238" width="1" height="35" fill="#000"/>
<rect x="832" y="255" width="11" height="2" fill="#000"/>
<rect x="853" y="205" width="1" height="63" fill="#000"/>
<rect x="848" y="255" width="11" height="7" fill="#000"/>
<rect x="849" y="256" width="9" height="5" fill="#00ff00"/>
<rect x="869" y="251" width="1" height="23" fill="#000"/>
<rect x="864" y="261" width="11" height="1" fill="#000"/>
<rect x="885" y="260" width="1" height="30" fill="#000"/>
<rect x="880" y="261" width="11" height="24" fill="#000"/>
<rect x="881" y="262" width="9" height="22" fill="#00ff00"/>
<rect x="901" y="248" width="1" height="78" fill="#000"/>
<rect x="896" y="262" width="11" height="23" fill="#000"/>
<rect x="897" y="263" width="9" height="21" fill="#ff0000"/>
<rect x="917" y="212" width="1" height="60" fill="#000"/>
<rect x="912" y="235" width="11" height="28" fill="#000"/>
<rect x="913" y="236" width="9" height="26" fill="#ff0000"/>
<rect x="933" y="224" width="1" height="71" fill="#000"/>
<rect x="928" y="236" width="11" height="47" fill="#000"/>
<rect x="929" y="237" width="9" height="45" fill="#00ff00"/>
<rect x="949" y="216" width="1" height="96" fill="#000"/>
<rect x="944" y="222" width="11" height="61" fill="#000"/>
<rect x="945" y="223" width="9" height="59" fill="#ff0000"/>
<rect x="965" y="171" width="1" height="54" fill="#000"/>
<rect x="960" y="191" width="11" height="32" fill="#000"/>
<rect x="961" y="192" width="9" height="30" fill="#ff0000"/>
<rect x="981" y="182" width="1" height="22" fill="#000"/>
<rect x="976" y="191" width="11" height="6" fill="#000"/>
<rect x="977" y="192" width="9" height="4" fill="#00ff00"/>
<rect x="997" y="162" width="1" height="51" fill="#000"/>
<rect x="992" y="174" width="11" height="23" fill="#000"/>
<rect x="993" y="175" width="9" height="21" fill="#ff0000"/>
<rect x="1013" y="172" width="1" height="59" fill="#000"/>
<rect x="1008" y="174" width="11" height="43" fill="#000"/>
<rect x="1009" y="175" width="9" height="41" fill="#00ff00"/>
<rect x="1029" y="197" width="1" height="29" fill="#000"/>
<rect x="1024" y="216" width="11" height="7" fill="#000"/>
<rect x="1025" y="217" width="9" height="5" fill="#00ff00"/>
<rect x="1045" y="219" width="1" height="88" fill="#000"/>
<rect x="1040" y="222" width="11" height="65" fill="#000"/>
<rect x="1041" y="223" width="9" height="63" fill="#00ff00"/>
<rect x="1061" y="280" width="1" height="22" fill="#000"/>
<rect x="1056" y="286" width="11" height="10" fill="#000"/>
<rect x="1057" y="287" width="9" height="8" fill="#00ff00"/>
<rect x="1077" y="287" width="1" height="22" fill="#000"/>
<rect x="1072" y="288" width="11" height="8" fill="#000"/>
<rect x="1073" y="289" width="9" height="6" fill="#ff0000"/>
<rect x="1093" y="229" width="1" height="80" fill="#000"/>
<rect x="1088" y="236" width="11" height="53" fill="#000"/>
<rect x="1089" y="237" width="9" height="51" fill="#ff0000"/>
<rect x="1109" y="232" width="1" height="30" fill="#000"/>
<rect x="1104" y="236" width="11" height="12" fill="#000"/>
<rect x="1105" y="237" width="9" height="10" fill="#00ff00"/>
<rect x="1125" y="199" width="1" height="59" fill="#000"/>
<rect x="1120" y="215" width="11" height="33" fill="#000"/>
<rect x="1121" y="216" width="9" height="31" fill="#ff0000"/>
<rect x="1141" y="201" width="1" height="37" fill="#000"/>
<rect x="1136" y="212" width="11" height="3" fill="#000"/>
<rect x="1137" y="213" width="9" height="1" fill="#ff0000"/>
<rect x="1157" y="197" width="1" height="23" fill="#000"/>
<rect x="1152" y="211" width="11" height="2" fill="#000"/>
<rect x="1173" y="150" width="1" height="63" fill="#000"/>
<rect x="1168" y="178" width="11" height="35" fill="#000"/>
<rect x="1169" y="179" width="9" height="33" fill="#ff0000"/>
<rect x="1189" y="150" width="1" height="43" fill="#000"/>
<rect x="1184" y="176" width="11" height="3" fill="#000"/>
<rect x="1185" y="177" width="9" height="1" fill="#ff0000"/>
<rect x="1205" y="161" width="1" height="30" fill="#000"/>
<rect x="1200" y="171" width="11" height="6" fill="#000"/>
<rect x="1201" y="172" width="9" height="4" fill="#ff0000"/>
<rect x="1221" y="146" width="1" height="41" fill="#000"/>
<rect x="1216" y="149" width="11" height="23" fill="#000"/>
<rect x="1217" y="150" width="9" height="21" fill="#ff0000"/>
<rect x="1237" y="145" width="1" height="19" fill="#000"/>
<rect x="1232" y="149" width="11" height="14" fill="#000"/>
<rect x="1233" y="150" width="9" height="12" fill="#00ff00"/>
<rect x="1253" y="158" width="1" height="9" fill="#000"/>
<rect x="1248" y="162" width="11" height="1" fill="#000"/>
<rect x="1269" y="79" width="1" height="94" fill="#000"/>
<rect x="1264" y="118" width="11" height="44" fill="#000"/>
<rect x="1265" y="119" width="9" height="42" fill="#ff0000"/>
<rect x="1285" y="86" width="1" height="74" fill="#000"/>
<rect x="1280" y="118" width="11" height="31" fill="#000"/>
<rect x="1281" y="119" width="9" height="29" fill="#00ff00"/>
<rect x="1301" y="122" width="1" height="37" fill="#000"/>
<rect x="1296" y="148" width="11" height="4" fill="#000"/>
<rect x="1297" y="149" width="9" height="2" fill="#00ff00"/>
<rect x="1317" y="88" width="1" height="103" fill="#000"/>
<rect x="1312" y="105" width="11" height="47" fill="#000"/>
<rect x="1313" y="106" width="9" height="45" fill="#ff0000"/>
<rect x="1333" y="76" width="1" height="52" fill="#000"/>
<rect x="1328" y="95" width="11" height="12" fill="#000"/>
<rect x="1329" y="96" width="9" height="10" fill="#ff0000"/>
<rect x="1349" y="89" width="1" height="8" fill="#000"/>
<rect x="1344" y="89" width="11" height="8" fill="#000"/>
<rect x="1345" y="90" width="9" height="6" fill="#ff0000"/>
<rect x="5" y="89" width="1639" height="1" fill="#000"/>
<rect x="1646" y="84" width="41" height="11" fill="#000"/>
<rect x="5" y="29" width="1641" height="2" fill="#ff0000"/>
<rect x="4" y="27" width="6" height="6" fill="#ff0000"/>
<rect x="6" y="29" width="2" height="2" fill="#fff"/>
<rect x="1638" y="27" width="6" height="6" fill="#ff0000"/>
<rect x="1640" y="29" width="2" height="2" fill="#fff"/>
<rect x="1646" y="25" width="41" height="10" fill="#ff0000"/>
<rect x="5" y="58" width="1641" height="2" fill="#ff0000"/>
<rect x="4" y="56" width="6" height="6" fill="#ff0000"/>
<rect x="6" y="58" width="2" height="2" fill="#fff"/>
<rect x="1638" y="56" width="6" height="6" fill="#ff0000"/>
<rect x="1640" y="58" width="2" height="2" fill="#fff"/>
<rect x="1646" y="53" width="41" height="11" fill="#ff0000"/>
<rect x="5" y="105" width="1641" height="2" fill="#00bfff"/>
<rect x="4" y="103" width="6" height="6" fill="#00bfff"/>
<rect x="6" y="105" width="2" height="2" fill="#fff"/>
<rect x="1638" y="103" width="6" height="6" fill="#00bfff"/>
<rect x="1640" y="105" width="2" height="2" fill="#fff"/>
<rect x="1646" y="100" width="41" height="11" fill="#00bfff"/>
<rect x="5" y="139" width="1641" height="2" fill="#0000ff"/>
<rect x="4" y="137" width="6" height="6" fill="#0000ff"/>
<rect x="6" y="139" width="2" height="2" fill="#fff"/>
<rect x="1638" y="137" width="6" height="6" fill="#0000ff"/>
<rect x="1640" y="139" width="2" height="2" fill="#fff"/>
<rect x="1646" y="134" width="41" height="11" fill="#0000ff"/>
<rect x="5" y="167" width="1641" height="2" fill="#0000ff"/>
<rect x="4" y="165" width="6" height="6" fill="#0000ff"/>
<rect x="6" y="167" width="2" height="2" fill="#fff"/>
<rect x="1638" y="165" width="6" height="6" fill="#0000ff"/>
<rect x="1640" y="167" width="2" height="2" fill="#fff"/>
<rect x="1646" y="162" width="41" height="11" fill="#0000ff"/>
</g>
<text x="1650" y="93" font-size="10.1" fill="#fff" textLength="33" lengthAdjust="spacingAndGlyphs" stroke="#fff" stroke-width="0.2">7.17460</text>
<text x="1650" y="33" font-size="10.1" fill="#fff" textLength="33" lengthAdjust="spacingAndGlyphs" stroke="#fff" stroke-width="0.2">7.19046</text>
<text x="1650" y="62" font-size="10.1" fill="#fff" textLength="33" lengthAdjust="spacingAndGlyphs" stroke="#fff" stroke-width="0.2">7.18292</text>
<text x="1650" y="109" font-size="10.1" fill="#fff" textLength="33" lengthAdjust="spacingAndGlyphs" stroke="#fff" stroke-width="0.2">7.17005</text>
<text x="1650" y="143" font-size="10.1" fill="#fff" textLength="33" lengthAdjust="spacingAndGlyphs" stroke="#fff" stroke-width="0.2">7.16089</text>
<text x="1650" y="171" font-size="10.1" fill="#fff" textLength="33" lengthAdjust="spacingAndGlyphs" stroke="#fff" stroke-width="0.2">7.15347</text>
<path d="M1375.5 27 L1385.5 27 L1380.5 33 Z" fill="#000"/>
<line x1="1284.5" y1="257" x2="1388" y2="172.5" stroke="#ea1a22" stroke-width="2.9"/>
<path d="M1397 165 L1378 169.5 L1389.5 182.5 Z" fill="#ea1a22"/>
<path d="M8 34 L15 34 L11.5 38 Z" fill="#000"/>
<text x="20.2" y="39" font-size="10.1" fill="#000" textLength="59" lengthAdjust="spacingAndGlyphs" stroke="#000" stroke-width="0.18">USDCNH-,H4</text>
<text x="84.8" y="39" font-size="10.1" fill="#000" textLength="33.4" lengthAdjust="spacingAndGlyphs" stroke="#000" stroke-width="0.18">7.17292</text>
<text x="121" y="39" font-size="10.1" fill="#000" textLength="33.4" lengthAdjust="spacingAndGlyphs" stroke="#000" stroke-width="0.18">7.17466</text>
<text x="156.8" y="39" font-size="10.1" fill="#000" textLength="33.4" lengthAdjust="spacingAndGlyphs" stroke="#000" stroke-width="0.18">7.17277</text>
<text x="193" y="39" font-size="10.1" fill="#000" textLength="33.4" lengthAdjust="spacingAndGlyphs" stroke="#000" stroke-width="0.18">7.17460</text>
<g shape-rendering="crispEdges">
<rect x="5" y="627" width="2" height="86" fill="#00ff00"/>
<rect x="20" y="628" width="3" height="85" fill="#00ff00"/>
<rect x="36" y="632" width="3" height="81" fill="#00ff00"/>
<rect x="52" y="635" width="3" height="78" fill="#00ff00"/>
<rect x="68" y="629" width="3" height="84" fill="#00ff00"/>
<rect x="84" y="626" width="3" height="87" fill="#00ff00"/>
<rect x="100" y="624" width="3" height="89" fill="#00ff00"/>
<rect x="116" y="618" width="3" height="95" fill="#00ff00"/>
<rect x="132" y="616" width="3" height="97" fill="#00ff00"/>
<rect x="148" y="615" width="3" height="98" fill="#00ff00"/>
<rect x="164" y="623" width="3" height="90" fill="#00ff00"/>
<rect x="180" y="641" width="3" height="72" fill="#00ff00"/>
<rect x="196" y="650" width="3" height="63" fill="#00ff00"/>
<rect x="212" y="655" width="3" height="58" fill="#00ff00"/>
<rect x="228" y="659" width="3" height="54" fill="#00ff00"/>
<rect x="244" y="660" width="3" height="53" fill="#00ff00"/>
<rect x="260" y="658" width="3" height="55" fill="#00ff00"/>
<rect x="276" y="657" width="3" height="56" fill="#00ff00"/>
<rect x="292" y="657" width="3" height="56" fill="#00ff00"/>
<rect x="308" y="659" width="3" height="54" fill="#00ff00"/>
<rect x="324" y="660" width="3" height="53" fill="#00ff00"/>
<rect x="340" y="652" width="3" height="61" fill="#00ff00"/>
<rect x="356" y="648" width="3" height="65" fill="#00ff00"/>
<rect x="372" y="652" width="3" height="61" fill="#00ff00"/>
<rect x="388" y="656" width="3" height="57" fill="#00ff00"/>
<rect x="404" y="658" width="3" height="55" fill="#00ff00"/>
<rect x="420" y="661" width="3" height="52" fill="#00ff00"/>
<rect x="436" y="650" width="3" height="63" fill="#00ff00"/>
<rect x="452" y="639" width="3" height="74" fill="#00ff00"/>
<rect x="468" y="631" width="3" height="82" fill="#00ff00"/>
<rect x="484" y="623" width="3" height="90" fill="#00ff00"/>
<rect x="500" y="623" width="3" height="90" fill="#00ff00"/>
<rect x="516" y="625" width="3" height="88" fill="#00ff00"/>
<rect x="532" y="630" width="3" height="83" fill="#00ff00"/>
<rect x="548" y="623" width="3" height="90" fill="#00ff00"/>
<rect x="564" y="624" width="3" height="89" fill="#00ff00"/>
<rect x="580" y="637" width="3" height="76" fill="#00ff00"/>
<rect x="596" y="646" width="3" height="67" fill="#00ff00"/>
<rect x="612" y="655" width="3" height="58" fill="#00ff00"/>
<rect x="628" y="672" width="3" height="41" fill="#00ff00"/>
<rect x="644" y="685" width="3" height="28" fill="#00ff00"/>
<rect x="660" y="698" width="3" height="15" fill="#00ff00"/>
<rect x="676" y="699" width="3" height="14" fill="#00ff00"/>
<rect x="692" y="697" width="3" height="16" fill="#00ff00"/>
<rect x="708" y="692" width="3" height="21" fill="#00ff00"/>
<rect x="724" y="682" width="3" height="31" fill="#00ff00"/>
<rect x="740" y="675" width="3" height="38" fill="#00ff00"/>
<rect x="756" y="676" width="3" height="37" fill="#00ff00"/>
<rect x="772" y="675" width="3" height="38" fill="#00ff00"/>
<rect x="788" y="673" width="3" height="40" fill="#00ff00"/>
<rect x="804" y="671" width="3" height="42" fill="#00ff00"/>
<rect x="820" y="666" width="3" height="47" fill="#00ff00"/>
<rect x="836" y="663" width="3" height="50" fill="#00ff00"/>
<rect x="852" y="662" width="3" height="51" fill="#00ff00"/>
<rect x="868" y="661" width="3" height="52" fill="#00ff00"/>
<rect x="884" y="665" width="3" height="48" fill="#00ff00"/>
<rect x="900" y="665" width="3" height="48" fill="#00ff00"/>
<rect x="916" y="662" width="3" height="51" fill="#00ff00"/>
<rect x="932" y="667" width="3" height="46" fill="#00ff00"/>
<rect x="948" y="663" width="3" height="50" fill="#00ff00"/>
<rect x="964" y="656" width="3" height="57" fill="#00ff00"/>
<rect x="980" y="652" width="3" height="61" fill="#00ff00"/>
<rect x="996" y="647" width="3" height="66" fill="#00ff00"/>
<rect x="1012" y="649" width="3" height="64" fill="#00ff00"/>
<rect x="1028" y="652" width="3" height="61" fill="#00ff00"/>
<rect x="1044" y="664" width="3" height="49" fill="#00ff00"/>
<rect x="1060" y="676" width="3" height="37" fill="#00ff00"/>
<rect x="1076" y="684" width="3" height="29" fill="#00ff00"/>
<rect x="1092" y="684" width="3" height="29" fill="#00ff00"/>
<rect x="1108" y="685" width="3" height="28" fill="#00ff00"/>
<rect x="1124" y="683" width="3" height="30" fill="#00ff00"/>
<rect x="1140" y="680" width="3" height="33" fill="#00ff00"/>
<rect x="1156" y="679" width="3" height="34" fill="#00ff00"/>
<rect x="1172" y="673" width="3" height="40" fill="#00ff00"/>
<rect x="1188" y="669" width="3" height="44" fill="#00ff00"/>
<rect x="1204" y="666" width="3" height="47" fill="#00ff00"/>
<rect x="1220" y="661" width="3" height="52" fill="#00ff00"/>
<rect x="1236" y="659" width="3" height="54" fill="#00ff00"/>
<rect x="1252" y="659" width="3" height="54" fill="#00ff00"/>
<rect x="1268" y="653" width="3" height="60" fill="#00ff00"/>
<rect x="1284" y="653" width="3" height="60" fill="#00ff00"/>
<rect x="1300" y="654" width="3" height="59" fill="#00ff00"/>
<rect x="1316" y="650" width="3" height="63" fill="#00ff00"/>
<rect x="1332" y="645" width="3" height="68" fill="#00ff00"/>
<rect x="1348" y="642" width="3" height="71" fill="#00ff00"/>
</g>
<polyline points="5.5,616 21.5,616 37.5,616.5 53.5,617.5 69.5,619.5 85.5,622 101.5,624 117.5,625 133.5,625 149.5,624.5 165.5,623.5 181.5,624 197.5,626 213.5,628 229.5,632 245.5,636 261.5,640 277.5,644 293.5,648 309.5,652.5 325.5,656 341.5,656.5 357.5,656.5 373.5,656.5 389.5,655.5 405.5,655.5 421.5,656 437.5,655.5 453.5,653.5 469.5,650.5 485.5,646.5 501.5,644.5 517.5,641.5 533.5,638.5 549.5,634.5 565.5,630.5 581.5,629 597.5,629 613.5,632 629.5,637 645.5,644 661.5,652.5 677.5,661 693.5,669 709.5,676.5 725.5,681.5 741.5,684.5 757.5,686 773.5,686 789.5,685.5 805.5,682.5 821.5,678.5 837.5,675 853.5,671 869.5,669 885.5,668 901.5,667 917.5,665 933.5,665 949.5,664 965.5,663 981.5,662 997.5,660 1013.5,659 1029.5,657 1045.5,657 1061.5,659 1077.5,660 1093.5,663.5 1109.5,666.5 1125.5,669.5 1141.5,673 1157.5,676 1173.5,679 1189.5,679 1205.5,678.5 1221.5,676.5 1237.5,673.5 1253.5,670.5 1269.5,667.5 1285.5,664 1301.5,661 1317.5,658 1333.5,656 1349.5,653.5" fill="none" stroke="#ff0000" stroke-width="2" stroke-linejoin="round" shape-rendering="crispEdges"/>
<text x="9.5" y="620" font-size="10.1" fill="#000" textLength="148" lengthAdjust="spacingAndGlyphs" stroke="#000" stroke-width="0.18">MACD(12,26,9) 0.011165 0.009457</text>
<text x="1647.8" y="618" font-size="10.1" fill="#000" textLength="38.6" lengthAdjust="spacingAndGlyphs" stroke="#000" stroke-width="0.18">0.016366</text>
<text x="1648" y="711" font-size="10.1" fill="#000" textLength="5" lengthAdjust="spacingAndGlyphs" stroke="#000" stroke-width="0.18">0</text>
<g shape-rendering="crispEdges">
<path d="M6 737.5 H1641" stroke="#000" stroke-width="1" stroke-dasharray="3 3" fill="none"/>
<path d="M6 766.5 H1641" stroke="#000" stroke-width="1" stroke-dasharray="3 3" fill="none"/>
<path d="M6 801.5 H1641" stroke="#000" stroke-width="1" stroke-dasharray="3 3" fill="none"/>
</g>
<polyline points="5.5,756 21.5,750 37.5,753.5 53.5,753.5 69.5,746 85.5,746 101.5,745.5 117.5,742 133.5,741.5 149.5,741.5 165.5,760 181.5,770 197.5,763.5 213.5,761 229.5,760.5 245.5,757.5 261.5,755 277.5,755 293.5,756 309.5,757.5 325.5,756 341.5,749 357.5,749.5 373.5,758.5 389.5,758.5 405.5,759.5 421.5,758 437.5,747 453.5,745 469.5,744.5 485.5,744.5 501.5,752.5 517.5,753 533.5,756 549.5,747.5 565.5,755 581.5,764.5 597.5,764.5 613.5,764.5 629.5,773 645.5,773 661.5,773 677.5,765 693.5,763 709.5,760 725.5,755.5 741.5,755.5 757.5,762 773.5,760.5 789.5,759.5 805.5,759 821.5,755 837.5,755.5 853.5,756 869.5,756.5 885.5,760.5 901.5,758 917.5,754.5 933.5,763 949.5,756 965.5,752.5 981.5,752.5 997.5,751.5 1013.5,758.5 1029.5,758.5 1045.5,769.5 1061.5,769.5 1077.5,769.5 1093.5,762.5 1109.5,762.5 1125.5,758.5 1141.5,758.5 1157.5,758.5 1173.5,755 1189.5,754.5 1205.5,754.5 1221.5,751.5 1237.5,753.5 1253.5,753.5 1269.5,749.5 1285.5,755.5 1301.5,755.5 1317.5,750 1333.5,749 1349.5,748.5" fill="none" stroke="#1e90ff" stroke-width="2" stroke-linejoin="round" shape-rendering="crispEdges"/>
<text x="9" y="729" font-size="10.1" fill="#000" textLength="68" lengthAdjust="spacingAndGlyphs" stroke="#000" stroke-width="0.18">RSI(14) 68.4157</text>
<text x="1648" y="727" font-size="10.1" fill="#000" textLength="15" lengthAdjust="spacingAndGlyphs" stroke="#000" stroke-width="0.18">100</text>
<text x="1648" y="741" font-size="10.1" fill="#000" textLength="10" lengthAdjust="spacingAndGlyphs" stroke="#000" stroke-width="0.18">80</text>
<text x="1648" y="770" font-size="10.1" fill="#000" textLength="10" lengthAdjust="spacingAndGlyphs" stroke="#000" stroke-width="0.18">50</text>
<text x="1648" y="805" font-size="10.1" fill="#000" textLength="10" lengthAdjust="spacingAndGlyphs" stroke="#000" stroke-width="0.18">15</text>
<text x="1648" y="813" font-size="10.1" fill="#000" textLength="5" lengthAdjust="spacingAndGlyphs" stroke="#000" stroke-width="0.18">0</text>
<g shape-rendering="crispEdges">
<rect x="5" y="817" width="1" height="3" fill="#000"/>
<rect x="69" y="817" width="1" height="3" fill="#000"/>
<rect x="133" y="817" width="1" height="3" fill="#000"/>
<rect x="197" y="817" width="1" height="3" fill="#000"/>
<rect x="261" y="817" width="1" height="3" fill="#000"/>
<rect x="325" y="817" width="1" height="3" fill="#000"/>
<rect x="389" y="817" width="1" height="3" fill="#000"/>
<rect x="453" y="817" width="1" height="3" fill="#000"/>
<rect x="517" y="817" width="1" height="3" fill="#000"/>
<rect x="581" y="817" width="1" height="3" fill="#000"/>
<rect x="645" y="817" width="1" height="3" fill="#000"/>
<rect x="709" y="817" width="1" height="3" fill="#000"/>
<rect x="773" y="817" width="1" height="3" fill="#000"/>
<rect x="837" y="817" width="1" height="3" fill="#000"/>
<rect x="901" y="817" width="1" height="3" fill="#000"/>
<rect x="965" y="817" width="1" height="3" fill="#000"/>
<rect x="1029" y="817" width="1" height="3" fill="#000"/>
<rect x="1093" y="817" width="1" height="3" fill="#000"/>
<rect x="1157" y="817" width="1" height="3" fill="#000"/>
<rect x="1221" y="817" width="1" height="3" fill="#000"/>
<rect x="1285" y="817" width="1" height="3" fill="#000"/>
<rect x="1349" y="817" width="1" height="3" fill="#000"/>
</g>
<text x="3.7" y="829" font-size="10.1" fill="#000" textLength="55.8" lengthAdjust="spacingAndGlyphs" stroke="#000" stroke-width="0.18">24 May 2023</text>
<text x="67.7" y="829" font-size="10.1" fill="#000" textLength="58.2" lengthAdjust="spacingAndGlyphs" stroke="#000" stroke-width="0.18">25 May 00:00</text>
<text x="131.7" y="829" font-size="10.1" fill="#000" textLength="58.2" lengthAdjust="spacingAndGlyphs" stroke="#000" stroke-width="0.18">25 May 16:00</text>
<text x="195.7" y="829" font-size="10.1" fill="#000" textLength="58.2" lengthAdjust="spacingAndGlyphs" stroke="#000" stroke-width="0.18">26 May 08:00</text>
<text x="259.7" y="829" font-size="10.1" fill="#000" textLength="58.2" lengthAdjust="spacingAndGlyphs" stroke="#000" stroke-width="0.18">29 May 04:00</text>
<text x="323.7" y="829" font-size="10.1" fill="#000" textLength="58.2" lengthAdjust="spacingAndGlyphs" stroke="#000" stroke-width="0.18">29 May 20:00</text>
<text x="387.7" y="829" font-size="10.1" fill="#000" textLength="58.2" lengthAdjust="spacingAndGlyphs" stroke="#000" stroke-width="0.18">30 May 12:00</text>
<text x="451.7" y="829" font-size="10.1" fill="#000" textLength="58.2" lengthAdjust="spacingAndGlyphs" stroke="#000" stroke-width="0.18">31 May 04:00</text>
<text x="515.7" y="829" font-size="10.1" fill="#000" textLength="58.2" lengthAdjust="spacingAndGlyphs" stroke="#000" stroke-width="0.18">31 May 20:00</text>
<text x="579.7" y="829" font-size="10.1" fill="#000" textLength="48.6" lengthAdjust="spacingAndGlyphs" stroke="#000" stroke-width="0.18">1 Jun 12:00</text>
<text x="643.7" y="829" font-size="10.1" fill="#000" textLength="48.6" lengthAdjust="spacingAndGlyphs" stroke="#000" stroke-width="0.18">2 Jun 04:00</text>
<text x="707.7" y="829" font-size="10.1" fill="#000" textLength="48.6" lengthAdjust="spacingAndGlyphs" stroke="#000" stroke-width="0.18">5 Jun 00:00</text>
<text x="771.7" y="829" font-size="10.1" fill="#000" textLength="48.6" lengthAdjust="spacingAndGlyphs" stroke="#000" stroke-width="0.18">5 Jun 16:00</text>
<text x="835.7" y="829" font-size="10.1" fill="#000" textLength="48.6" lengthAdjust="spacingAndGlyphs" stroke="#000" stroke-width="0.18">6 Jun 08:00</text>
<text x="899.7" y="829" font-size="10.1" fill="#000" textLength="48.6" lengthAdjust="spacingAndGlyphs" stroke="#000" stroke-width="0.18">7 Jun 00:00</text>
<text x="963.7" y="829" font-size="10.1" fill="#000" textLength="48.6" lengthAdjust="spacingAndGlyphs" stroke="#000" stroke-width="0.18">7 Jun 16:00</text>
<text x="1027.7" y="829" font-size="10.1" fill="#000" textLength="48.6" lengthAdjust="spacingAndGlyphs" stroke="#000" stroke-width="0.18">8 Jun 08:00</text>
<text x="1091.7" y="829" font-size="10.1" fill="#000" textLength="48.6" lengthAdjust="spacingAndGlyphs" stroke="#000" stroke-width="0.18">9 Jun 00:00</text>
<text x="1155.7" y="829" font-size="10.1" fill="#000" textLength="48.6" lengthAdjust="spacingAndGlyphs" stroke="#000" stroke-width="0.18">9 Jun 16:00</text>
<text x="1219.7" y="829" font-size="10.1" fill="#000" textLength="52.8" lengthAdjust="spacingAndGlyphs" stroke="#000" stroke-width="0.18">12 Jun 12:00</text>
<text x="1283.7" y="829" font-size="10.1" fill="#000" textLength="52.8" lengthAdjust="spacingAndGlyphs" stroke="#000" stroke-width="0.18">13 Jun 04:00</text>
<text x="1347.7" y="829" font-size="10.1" fill="#000" textLength="52.8" lengthAdjust="spacingAndGlyphs" stroke="#000" stroke-width="0.18">13 Jun 20:00</text>
</svg>
</body></html>
